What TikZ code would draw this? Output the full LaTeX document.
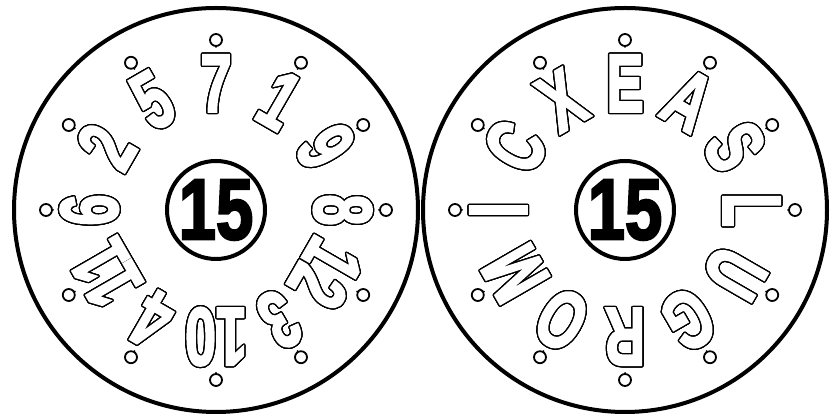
\documentclass[tikz,border=0pt]{standalone}
\usepackage{fontspec}
\setmainfont{Liberation Sans}
\newfontfamily\heavy{Liberation Sans}[BoldFeatures={FakeBold=3}]
\usepackage{contour}
\contourlength{1.3pt}
\contournumber{28}
\usetikzlibrary{calc}
\newcommand\olchar[1]{\contour{black}{\scalebox{0.68}[1]{#1}}}
\tikzset{
  rim/.style={draw, line width=4pt},
  hub/.style={draw, line width=4pt, circle, minimum size=98pt, inner sep=0pt,
    font=\fontsize{86}{86}\heavy\bfseries},
  ringdot/.style={draw, line width=1.8pt, circle, minimum size=12pt, inner sep=0pt, fill=white},
  tickdot/.style={fill=black, circle, minimum size=2pt, inner sep=0pt},
  glyph/.style={inner sep=0pt, text=white, font=\fontsize{82}{82}\heavy\bfseries}
}
\begin{document}
\begin{tikzpicture}[x=1pt,y=1pt]
\useasboundingbox (0,0) rectangle (839,417);
\coordinate (lc) at (216,207);
\coordinate (rc) at (625,207);
\draw[rim] (lc) circle[radius=202];
\draw[rim] (rc) circle[radius=202];
\node[hub] (lh) at (lc) {\scalebox{0.78}[1]{15}};
\node[hub] (rh) at (rc) {\scalebox{0.78}[1]{15}};
\foreach \t [count=\i from 0] in {7,1,9,8,12,3,10,4,11,6,2,5} {
  \pgfmathsetmacro\ang{90-30*\i}
  \node[tickdot] (LT\i) at ($(lc)+(\ang:163)$) {};
  \node[ringdot] (LD\i) at ($(lc)+(\ang:170)$) {};
  \node[glyph, rotate=-30*\i] (L\i) at ($(lc)+(\ang:126)$) {\olchar{\t}};
}
\foreach \t [count=\i from 0] in {E,A,S,L,U,G,R,O,M,I,C,X} {
  \pgfmathsetmacro\ang{90-30*\i}
  \node[tickdot] (RT\i) at ($(rc)+(\ang:163)$) {};
  \node[ringdot] (RD\i) at ($(rc)+(\ang:170)$) {};
  \node[glyph, rotate=-30*\i] (R\i) at ($(rc)+(\ang:126)$) {\olchar{\t}};
}
\end{tikzpicture}
\end{document}
